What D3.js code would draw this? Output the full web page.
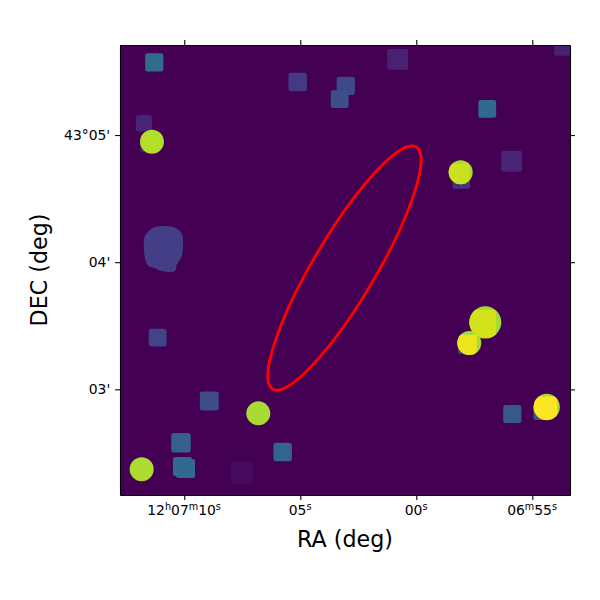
<!DOCTYPE html>
<html>
<head>
<meta charset="utf-8">
<script src="https://cdn.jsdelivr.net/npm/d3@7"></script>
<style>
body { margin:0; background:white; }
svg { display:block; }
text { font-family:"DejaVu Sans"; fill:black; }
</style>
</head>
<body>
<svg></svg>
<script>
// sky positions: RA = seconds from 12h07m00s, DEC = arcmin from 43 deg
var squareRa   = [11.293,5.112,3.039,3.302,0.802,11.737,11.522,-3.06,-4.112,-6.293,-1.94,11.147,8.922,10.142,10.078,9.948,5.759,7.526,-4.138,-2.142,-5.375]
var squareDec  = [5.572,5.417,5.387,5.283,5.595,5.092,4.929,5.205,4.793,5.687,4.646,3.406,2.908,2.58,2.393,2.377,2.507,2.347,2.806,3.341,2.818]
var squareSize = [8.6,8.7,8.6,8.4,9.9,7.6,8,8.4,9.9,7.6,8.2,8.4,8.9,9.2,9,9,8.7,10.4,8.6,7.55,7.1]
var squareFlux = [0.35,0.17,0.22,0.24,0.09,0.1,0.1,0.34,0.1,0.09,0.15,0.2,0.23,0.3,0.34,0.34,0.32,0.03,0.27,0.2,0.27]

var circleRa     = [11.392,-1.914,-2.974,-2.284,-5.621,6.81,11.836]
var circleDec    = [4.947,4.707,3.527,3.364,2.861,2.811,2.371]
var circleRadius = [5.66,5.66,7.55,5.66,6.2,5.66,5.66]
var circleFlux   = [0.89,0.87,0.86,0.87,0.86,0.87,0.875]

// brighter patches inside four of the circles, only seen within the circle
var overlapRa     = [-1.767,-2.789,-2.086,-5.56]
var overlapDec    = [4.678,3.506,3.333,2.849]
var overlapSize   = [11.3,14.2,11.3,11.3]
var overlapFlux   = [0.92,0.93,0.97,1]
var overlapCircle = [1,2,3,4]

var blobRa  = [11.306,10.474,10.185,10.086,10.069,10.155,10.328,10.401,11.017,11.263,11.552,11.694,11.724,11.621]
var blobDec = [4.274,4.276,4.245,4.214,4.082,4.03,3.978,3.93,3.933,3.952,3.972,4.03,4.188,4.227]
var blobFlux = 0.18

var ellipseRa = 3.095, ellipseDec = 3.954
var ellipseMajor = 66.4, ellipseMinor = 14.7, ellipsePA = 30.65

var raTicks = [10,5,0,-5]
var raLabels = ["12h07m10s","05s","00s","06m55s"]
var decTicks = [5,4,3]
var decLabels = ["43°05'","04'","03'"]

var screen = {width:600, height:600}
var margins = {top:45, bottom:105, left:120, right:30}
var width = screen.width-margins.left-margins.right
var height = screen.height-margins.top-margins.bottom

var svg = d3.select("svg").attr("width",screen.width).attr("height",screen.height)

var xScale = d3.scaleLinear().domain([12.77,-6.625]).range([0,width])
var yScale = d3.scaleLinear().domain([2.169,5.708]).range([height,0])
var cScale = d3.scaleSequential(d3.interpolateViridis).domain([0,1])

// sizes are in arcsec, one arcmin of DEC sets the pixel length
var arcsec = function(s){ return Math.abs(yScale(s/60)-yScale(0)) }

var defs = svg.append("defs")
defs.append("clipPath").attr("id","plotClip")
    .append("rect").attr("width",width).attr("height",height)

defs.selectAll(".circleClip")
    .data(circleRa)
    .enter()
    .append("clipPath")
    .attr("class","circleClip")
    .attr("id",function(d,i){ return "circleClip"+i })
    .append("circle")
    .attr("cx",function(d){ return xScale(d) })
    .attr("cy",function(d,i){ return yScale(circleDec[i]) })
    .attr("r",function(d,i){ return arcsec(circleRadius[i]) })

var graph = svg.append("g").attr("id","graph")
    .attr("transform","translate("+margins.left+","+margins.top+")")

graph.append("rect").attr("width",width).attr("height",height).attr("fill",cScale(0))

var plot = graph.append("g").attr("clip-path","url(#plotClip)")

plot.selectAll(".square")
    .data(squareRa)
    .enter()
    .append("rect")
    .attr("class","square")
    .attr("x",function(d,i){ return xScale(d)-arcsec(squareSize[i])/2 })
    .attr("y",function(d,i){ return yScale(squareDec[i])-arcsec(squareSize[i])/2 })
    .attr("width",function(d,i){ return arcsec(squareSize[i]) })
    .attr("height",function(d,i){ return arcsec(squareSize[i]) })
    .attr("rx",2.5)
    .attr("fill",function(d,i){ return cScale(squareFlux[i]) })

var blobLine = d3.line()
    .x(function(d){ return xScale(d) })
    .y(function(d,i){ return yScale(blobDec[i]) })
    .curve(d3.curveCatmullRomClosed)

plot.append("path")
    .attr("d",blobLine(blobRa))
    .attr("fill",cScale(blobFlux))

plot.selectAll(".source")
    .data(circleRa)
    .enter()
    .append("circle")
    .attr("class","source")
    .attr("cx",function(d){ return xScale(d) })
    .attr("cy",function(d,i){ return yScale(circleDec[i]) })
    .attr("r",function(d,i){ return arcsec(circleRadius[i]) })
    .attr("fill",function(d,i){ return cScale(circleFlux[i]) })

plot.selectAll(".overlap")
    .data(overlapRa)
    .enter()
    .append("g")
    .attr("class","overlap")
    .attr("clip-path",function(d,i){ return "url(#circleClip"+overlapCircle[i]+")" })
    .append("rect")
    .attr("x",function(d,i){ return xScale(d)-arcsec(overlapSize[i])/2 })
    .attr("y",function(d,i){ return yScale(overlapDec[i])-arcsec(overlapSize[i])/2 })
    .attr("width",function(d,i){ return arcsec(overlapSize[i]) })
    .attr("height",function(d,i){ return arcsec(overlapSize[i]) })
    .attr("rx",2)
    .attr("fill",function(d,i){ return cScale(overlapFlux[i]) })

plot.append("ellipse")
    .attr("rx",arcsec(ellipseMinor))
    .attr("ry",arcsec(ellipseMajor))
    .attr("transform","translate("+xScale(ellipseRa)+","+yScale(ellipseDec)+") rotate("+ellipsePA+")")
    .attr("fill","none")
    .attr("stroke","red")
    .attr("stroke-width",2.8)

// h, m and s sit raised and smaller than the digits
var tickText = function(sel){
    sel.each(function(d,i){
        var t = d3.select(this).text("")
        var raised = false
        raLabels[i].split(/([hms])/).forEach(function(part){
            if(part=="") return
            var isUnit = /[hms]/.test(part)
            t.append("tspan")
                .attr("font-size",isUnit ? 9.7 : 13.9)
                .attr("dy",isUnit ? -5.5 : (raised ? 5.5 : 0))
                .text(part)
            raised = isUnit
        })
    })
}

var xAxis = d3.axisBottom(xScale).tickValues(raTicks).tickSizeInner(4.9).tickSizeOuter(0).tickPadding(4.9)
var xTop = d3.axisTop(xScale).tickValues(raTicks).tickSizeInner(4.9).tickSizeOuter(0).tickFormat("")
var yAxis = d3.axisLeft(yScale).tickValues(decTicks).tickSizeInner(4.9).tickSizeOuter(0).tickPadding(4.9)
    .tickFormat(function(d,i){ return decLabels[i] })
var yRight = d3.axisRight(yScale).tickValues(decTicks).tickSizeInner(4.9).tickSizeOuter(0).tickFormat("")

var gx = graph.append("g").attr("id","xAxis").attr("transform","translate(0,"+height+")").call(xAxis)
var gxt = graph.append("g").call(xTop)
var gy = graph.append("g").attr("id","yAxis").call(yAxis)
var gyr = graph.append("g").attr("transform","translate("+width+",0)").call(yRight)

gx.selectAll("text").attr("dy",null).attr("y",20).attr("x",-0.7).call(tickText)
gy.selectAll("text").attr("font-size",13.9)

;[gx,gxt,gy,gyr].forEach(function(g){
    g.attr("font-family",null)
    g.selectAll(".domain").attr("stroke-width",1.1)
    g.selectAll(".tick line").attr("stroke-width",1.1)
})

svg.append("text")
    .attr("x",margins.left+width/2)
    .attr("y",547)
    .attr("text-anchor","middle")
    .attr("font-size",22.2)
    .text("RA (deg)")

svg.append("text")
    .attr("transform","translate(47,"+(margins.top+height/2)+") rotate(-90)")
    .attr("text-anchor","middle")
    .attr("font-size",22.2)
    .text("DEC (deg)")
</script>
</body>
</html>
